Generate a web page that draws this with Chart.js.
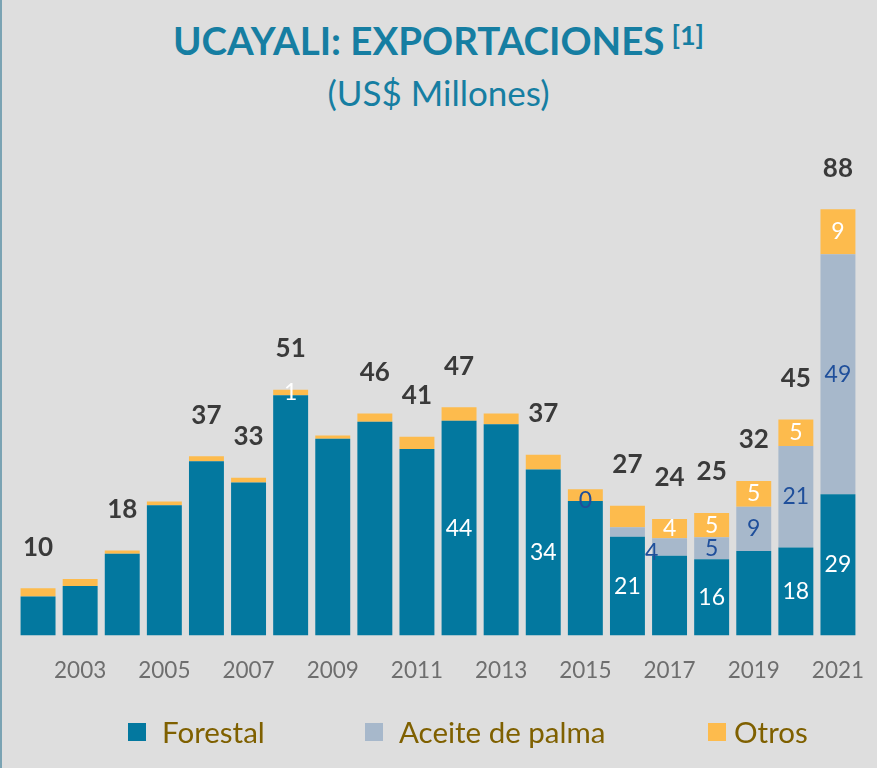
<!DOCTYPE html>
<html>
<head>
<meta charset="utf-8">
<script src="https://cdn.jsdelivr.net/npm/chart.js@4.4.1/dist/chart.umd.min.js"></script>
<style>
  html, body { margin: 0; padding: 0; }
  body { width: 877px; height: 768px; background: #dedede; position: relative; overflow: hidden; font-family: Lato, "Open Sans", sans-serif; }
  #edge { position: absolute; left: 0; top: 0; width: 2px; height: 768px; background: #7aa3b3; }
  #title { position: absolute; left: 0; width: 877px; top: 15px; text-align: center; color: #167ea2; font-weight: bold; font-size: 38.5px; line-height: 50px; white-space: nowrap; }
  #title sup { font-size: 27px; font-weight: bold; vertical-align: 0; position: relative; top: -10px; margin-left: 7px; }
  #subtitle { position: absolute; left: 0; width: 877px; top: 71px; text-align: center; color: #167ea2; font-size: 35px; line-height: 42px; white-space: nowrap; }
  #wrap { position: absolute; left: 0; top: 0; width: 877px; height: 768px; }
  #legend { position: absolute; top: 712px; left: 0; width: 877px; height: 40px; }
  .item { position: absolute; top: 0; display: flex; align-items: center; color: #7f6000; font-size: 29.5px; line-height: 40px; white-space: nowrap; }
  .box { width: 18px; height: 18px; }
</style>
</head>
<body>
<div id="edge"></div>
<div id="title">UCAYALI: EXPORTACIONES<sup>[1]</sup></div>
<div id="subtitle">(US$ Millones)</div>
<div id="wrap"><canvas id="c" width="877" height="768"></canvas></div>
<div id="legend"></div>
<script>
const years = [2002, 2003, 2004, 2005, 2006, 2007, 2008, 2009, 2010, 2011, 2012, 2013, 2014, 2015, 2016, 2017, 2018, 2019, 2020, 2021];
const forestal = [8.0, 10.2, 16.8, 26.8, 35.9, 31.5, 49.5, 40.5, 44.0, 38.4, 44.2, 43.5, 34.2, 27.7, 20.3, 16.4, 15.7, 17.4, 18.1, 29.1];
const aceite   = [0, 0, 0, 0, 0, 0, 0, 0, 0, 0, 0, 0, 0, 0, 2.0, 3.6, 4.5, 9.1, 20.9, 49.4];
const otros    = [1.7, 1.4, 0.7, 0.8, 1.0, 1.0, 1.1, 0.7, 1.7, 2.5, 2.8, 2.2, 3.0, 2.4, 4.4, 4.0, 5.0, 5.3, 5.5, 9.3];
const totalLabels    = [10, null, 18, null, 37, 33, 51, null, 46, 41, 47, null, 37, null, 27, 24, 25, 32, 45, 88];
const forestalLabels = [null, null, null, null, null, null, null, null, null, null, 44, null, 34, null, 21, null, 16, null, 18, 29];
const aceiteLabels   = [null, null, null, null, null, null, null, null, null, null, null, null, null, 0, null, 4, 5, 9, 21, 49];
const otrosLabels    = [null, null, null, null, null, null, 1, null, null, null, null, null, null, null, null, 4, 5, 5, 5, 9];
const seriesNames = ['Forestal', 'Aceite de palma', 'Otros'];
const xTickLabels = years.map(y => (y % 2 === 1 ? String(y) : ''));

const colors = ['#03789f', '#a7b8cb', '#fdbb4d'];
const labelColors = ['#ffffff', '#1f4f9b', '#ffffff'];
const segLabels = [forestalLabels, aceiteLabels, otrosLabels];
const labelOffsets = { '1-15': [-18, 6] };
const legendLayout = [ { left: 128, gap: 16 }, { left: 365, gap: 16 }, { left: 708, gap: 8 } ];

const labelPlugin = {
  id: 'barLabels',
  afterDatasetsDraw(chart) {
    const ctx = chart.ctx;
    const yScale = chart.scales.y;
    ctx.save();
    ctx.textAlign = 'center';
    ctx.textBaseline = 'middle';
    ctx.font = '23px Lato';
    chart.data.datasets.forEach((ds, di) => {
      const meta = chart.getDatasetMeta(di);
      meta.data.forEach((bar, i) => {
        const lab = segLabels[di][i];
        if (lab === null || lab === undefined) return;
        const off = labelOffsets[di + '-' + i] || [0, 0];
        ctx.fillStyle = labelColors[di];
        ctx.fillText(String(lab), bar.x + off[0], (bar.y + bar.base) / 2 + off[1]);
      });
    });
    ctx.font = 'bold 26px Lato';
    ctx.fillStyle = '#3a3a3a';
    const xMeta = chart.getDatasetMeta(0);
    years.forEach((y, i) => {
      const lab = totalLabels[i];
      if (lab === null) return;
      const total = forestal[i] + aceite[i] + otros[i];
      ctx.fillText(String(lab), xMeta.data[i].x, yScale.getPixelForValue(total) - 41);
    });
    ctx.restore();
  }
};

const chart = new Chart(document.getElementById('c'), {
  type: 'bar',
  data: {
    labels: years.map(String),
    datasets: [
      { label: seriesNames[0], data: forestal, backgroundColor: colors[0] },
      { label: seriesNames[1], data: aceite, backgroundColor: colors[1] },
      { label: seriesNames[2], data: otros, backgroundColor: colors[2] }
    ]
  },
  options: {
    responsive: false,
    animation: false,
    devicePixelRatio: 1,
    layout: { padding: { top: 150, left: 17, right: 18, bottom: 61.6 } },
    datasets: { bar: { categoryPercentage: 1, barPercentage: 0.83, borderWidth: 0 } },
    plugins: { legend: { display: false }, title: { display: false }, tooltip: { enabled: false } },
    scales: {
      x: {
        stacked: true,
        grid: { display: false, drawTicks: false },
        border: { display: false },
        afterFit(scale) { scale.paddingLeft = 0; scale.paddingRight = 0; },
        ticks: {
          autoSkip: false, maxRotation: 0, padding: 22,
          color: '#6e6e6e', font: { family: 'Lato', size: 22.5 },
          callback: (v, i) => xTickLabels[i]
        }
      },
      y: {
        stacked: true, display: false, min: 0, max: 100
      }
    }
  },
  plugins: [labelPlugin]
});

const legend = document.getElementById('legend');
chart.data.datasets.forEach((ds, k) => {
  const it = document.createElement('div');
  it.className = 'item';
  it.style.left = legendLayout[k].left + 'px';
  const b = document.createElement('span');
  b.className = 'box';
  b.style.background = ds.backgroundColor;
  b.style.marginRight = legendLayout[k].gap + 'px';
  const t = document.createElement('span');
  t.textContent = ds.label;
  it.appendChild(b); it.appendChild(t);
  legend.appendChild(it);
});
</script>
</body>
</html>
